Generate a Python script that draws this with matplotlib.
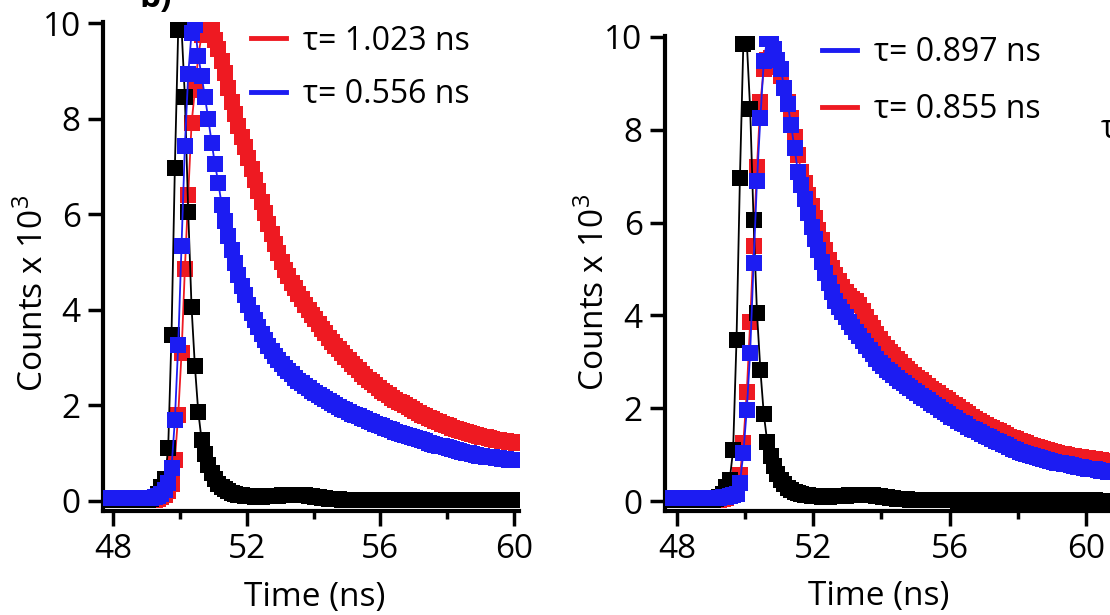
import numpy as np
import matplotlib
matplotlib.use("Agg")
import matplotlib.pyplot as plt
from matplotlib.lines import Line2D

plt.rcParams['font.family'] = ['Open Sans', 'DejaVu Sans']
plt.rcParams['mathtext.fontset'] = 'custom'
plt.rcParams['mathtext.rm'] = 'Open Sans'

# TCSPC bins: first bin at 47.75 ns, 0.1 ns wide
T0 = 47.75
DT = 0.1

# instrument response (black), same in both panels
irf = [0.03, 0.03, 0.03, 0.03, 0.03, 0.03, 0.03, 0.03, 0.03, 0.03,
       0.03, 0.03, 0.03, 0.03, 0.05, 0.08, 0.15, 0.30, 0.45, 1.10,
       3.47, 6.97, 9.85, 9.90, 8.45, 6.05, 4.05, 2.82, 1.87, 1.28,
       0.98, 0.75, 0.58, 0.45, 0.36, 0.29, 0.24, 0.20, 0.17, 0.15,
       0.13, 0.12, 0.11, 0.10, 0.10, 0.09, 0.09, 0.09, 0.10, 0.10,
       0.10, 0.11, 0.11, 0.12, 0.12, 0.12, 0.13, 0.13, 0.13, 0.12,
       0.12, 0.11, 0.10, 0.09, 0.08, 0.07, 0.06, 0.05, 0.05, 0.04,
       0.04, 0.03, 0.03, 0.03, 0.03, 0.03, 0.02, 0.02, 0.02, 0.02,
       0.02, 0.02, 0.03, 0.02, 0.02, 0.01, 0.02, 0.02, 0.02, 0.01,
       0.02, 0.02, 0.01, 0.02, 0.02, 0.02, 0.01, 0.02, 0.02, 0.01,
       0.02, 0.01, 0.02, 0.02, 0.01, 0.02, 0.01, 0.02, 0.01, 0.02,
       0.01, 0.02, 0.01, 0.01, 0.02, 0.01, 0.01, 0.02, 0.01, 0.01,
       0.01, 0.02, 0.01, 0.01, 0.01, 0.02, 0.01, 0.01, 0.01, 0.01]

# left panel
red_left = [0.03, 0.03, 0.03, 0.03, 0.03, 0.03, 0.03, 0.03, 0.03, 0.03,
            0.03, 0.03, 0.03, 0.03, 0.03, 0.03, 0.05, 0.08, 0.12, 0.20,
            0.35, 0.86, 1.80, 3.09, 4.86, 6.40, 7.90, 8.60, 9.30, 9.75,
            10.0, 10.0, 9.85, 9.65, 9.45, 9.20, 8.95, 8.65, 8.35, 8.10,
            7.85, 7.62, 7.40, 7.18, 6.95, 6.72, 6.48, 6.25, 6.02, 5.80,
            5.58, 5.38, 5.18, 5.00, 4.84, 4.70, 4.57, 4.45, 4.33, 4.22,
            4.11, 4.00, 3.90, 3.80, 3.70, 3.60, 3.51, 3.42, 3.33, 3.25,
            3.17, 3.09, 3.01, 2.94, 2.87, 2.80, 2.73, 2.66, 2.60, 2.54,
            2.48, 2.42, 2.36, 2.31, 2.26, 2.21, 2.16, 2.12, 2.08, 2.04,
            2.00, 1.96, 1.92, 1.88, 1.84, 1.80, 1.77, 1.74, 1.71, 1.68,
            1.65, 1.62, 1.59, 1.56, 1.53, 1.50, 1.48, 1.46, 1.44, 1.42,
            1.40, 1.38, 1.36, 1.34, 1.33, 1.31, 1.30, 1.28, 1.27, 1.26,
            1.25, 1.24, 1.23, 1.22]

blue_left = [0.06, 0.06, 0.06, 0.06, 0.06, 0.06, 0.06, 0.06, 0.06, 0.06,
             0.06, 0.06, 0.06, 0.06, 0.06, 0.08, 0.10, 0.14, 0.22, 0.38,
             0.69, 1.69, 3.26, 5.34, 7.43, 8.93, 9.80, 9.95, 9.30, 8.90,
             8.45, 8.00, 7.50, 7.05, 6.66, 6.20, 5.85, 5.55, 5.25, 4.98,
             4.72, 4.50, 4.30, 4.10, 3.93, 3.78, 3.63, 3.50, 3.37, 3.25,
             3.14, 3.04, 2.95, 2.87, 2.79, 2.72, 2.65, 2.58, 2.52, 2.46,
             2.41, 2.36, 2.31, 2.26, 2.22, 2.17, 2.13, 2.09, 2.05, 2.01,
             1.97, 1.93, 1.90, 1.86, 1.83, 1.80, 1.77, 1.74, 1.71, 1.68,
             1.65, 1.62, 1.59, 1.56, 1.53, 1.50, 1.48, 1.45, 1.43, 1.40,
             1.38, 1.35, 1.33, 1.31, 1.29, 1.27, 1.25, 1.22, 1.20, 1.18,
             1.16, 1.14, 1.12, 1.10, 1.08, 1.06, 1.05, 1.03, 1.01, 1.00,
             0.98, 0.97, 0.95, 0.94, 0.93, 0.92, 0.91, 0.90, 0.89, 0.88,
             0.87, 0.86, 0.86, 0.85]

# right panel
blue_right = [0.06, 0.06, 0.06, 0.06, 0.06, 0.06, 0.06, 0.06, 0.06, 0.06,
              0.06, 0.06, 0.06, 0.06, 0.06, 0.07, 0.08, 0.09, 0.10, 0.12,
              0.15, 0.39, 1.03, 1.96, 3.20, 5.12, 6.90, 8.26, 9.48, 9.95,
              10.0, 9.75, 9.50, 9.30, 8.90, 8.56, 8.10, 7.60, 7.10, 6.80,
              6.50, 6.20, 5.90, 5.65, 5.40, 5.15, 4.92, 4.70, 4.50, 4.30,
              4.18, 4.07, 3.96, 3.85, 3.75, 3.65, 3.55, 3.45, 3.35, 3.25,
              3.16, 3.07, 2.98, 2.90, 2.83, 2.77, 2.71, 2.65, 2.59, 2.54,
              2.48, 2.43, 2.37, 2.32, 2.27, 2.22, 2.17, 2.12, 2.07, 2.02,
              1.97, 1.92, 1.87, 1.82, 1.78, 1.73, 1.69, 1.65, 1.60, 1.56,
              1.52, 1.48, 1.44, 1.41, 1.37, 1.34, 1.30, 1.27, 1.23, 1.20,
              1.17, 1.13, 1.10, 1.06, 1.03, 1.01, 0.99, 0.97, 0.95, 0.93,
              0.91, 0.89, 0.87, 0.85, 0.83, 0.82, 0.80, 0.79, 0.77, 0.76,
              0.74, 0.73, 0.72, 0.70, 0.69, 0.68, 0.67, 0.65, 0.64, 0.63]

red_right = [0.03, 0.03, 0.03, 0.03, 0.03, 0.03, 0.03, 0.03, 0.03, 0.03,
             0.03, 0.03, 0.03, 0.03, 0.03, 0.03, 0.05, 0.07, 0.10, 0.15,
             0.25, 0.55, 1.25, 2.34, 3.85, 5.50, 7.20, 8.60, 9.30, 9.50,
             9.55, 9.50, 9.35, 9.15, 8.90, 8.60, 8.25, 7.85, 7.45, 7.10,
             6.85, 6.60, 6.35, 6.10, 5.85, 5.62, 5.40, 5.20, 5.02, 4.88,
             4.75, 4.62, 4.50, 4.42, 4.36, 4.30, 4.22, 4.10, 3.97, 3.84,
             3.72, 3.60, 3.49, 3.39, 3.30, 3.22, 3.14, 3.06, 2.99, 2.92,
             2.85, 2.78, 2.72, 2.66, 2.60, 2.54, 2.48, 2.42, 2.37, 2.32,
             2.27, 2.22, 2.17, 2.12, 2.07, 2.02, 1.97, 1.92, 1.87, 1.82,
             1.77, 1.72, 1.68, 1.64, 1.60, 1.57, 1.53, 1.50, 1.46, 1.43,
             1.39, 1.36, 1.33, 1.30, 1.27, 1.24, 1.21, 1.18, 1.16, 1.14,
             1.12, 1.10, 1.08, 1.06, 1.04, 1.02, 1.01, 0.99, 0.98, 0.97,
             0.95, 0.94, 0.93, 0.92, 0.91, 0.90, 0.89, 0.88, 0.87, 0.86]

legend_left = ['τ= 1.023 ns', 'τ= 0.556 ns']
legend_right = ['τ= 0.897 ns', 'τ= 0.855 ns']

RED = '#ee1a22'
BLUE = '#1c1cf2'
FS = 24


def decay(ax, y, color, z):
    t = T0 + DT * np.arange(len(y))
    ax.plot(t, y, '-', color=color, lw=1.3, marker='s', ms=11,
            mec=color, mfc=color, mew=0, zorder=z)


def style(ax, xlim, ylim):
    ax.set_xlim(xlim)
    ax.set_ylim(ylim)
    for s in ['top', 'right']:
        ax.spines[s].set_visible(False)
    for s in ['left', 'bottom']:
        ax.spines[s].set_linewidth(3)
    ax.set_xticks([48, 52, 56, 60])
    ax.set_xticks([50, 54, 58], minor=True)
    ax.set_yticks([0, 2, 4, 6, 8, 10])
    ax.tick_params(which='major', length=11, width=2.5, labelsize=FS, pad=5)
    ax.tick_params(which='minor', length=6, width=2.5)
    ax.set_xlabel('Time (ns)', fontsize=FS, va='top')
    ax.set_ylabel('Counts x 10$^{\\mathregular{3}}$', fontsize=FS)


fig = plt.figure(figsize=(11.1, 6.15), dpi=100)

# left panel
ax1 = fig.add_axes([0.0928, 0.1691, 0.3748, 0.795])
decay(ax1, red_left, RED, 2)
decay(ax1, irf[:len(red_left)], 'black', 3)
decay(ax1, blue_left, BLUE, 4)
style(ax1, (47.70, 60.15), (-0.21, 10.02))
ax1.xaxis.set_label_coords(0.51, -0.143)
ax1.yaxis.set_label_coords(-0.125, 0.445)
h1 = [Line2D([], [], color=RED, lw=3.5), Line2D([], [], color=BLUE, lw=3.5)]
ax1.legend(h1, legend_left, loc='upper left', bbox_to_anchor=(0.355, 0.995),
           frameon=False, fontsize=23, handlelength=1.1, handletextpad=0.55,
           labelspacing=0.65, borderpad=0, borderaxespad=0)

# right panel
ax2 = fig.add_axes([0.599, 0.1691, 0.401, 0.7724])
decay(ax2, red_right, RED, 2)
decay(ax2, irf, 'black', 3)
decay(ax2, blue_right, BLUE, 4)
style(ax2, (47.65, 60.70), (-0.215, 10.02))
ax2.xaxis.set_label_coords(0.48, -0.146)
ax2.yaxis.set_label_coords(-0.12, 0.46)
h2 = [Line2D([], [], color=BLUE, lw=3.5), Line2D([], [], color=RED, lw=3.5)]
ax2.legend(h2, legend_right, loc='upper left', bbox_to_anchor=(0.352, 1.0),
           frameon=False, fontsize=23, handlelength=1.1, handletextpad=0.55,
           labelspacing=0.75, borderpad=0, borderaxespad=0)

# pieces of neighbouring labels cut by the crop
fig.text(0.126, 0.988, 'b)', fontsize=24, fontweight='bold', va='baseline')
fig.text(0.992, 0.775, 'τ', fontsize=23, va='baseline')

fig.savefig('out.png', dpi=100)
